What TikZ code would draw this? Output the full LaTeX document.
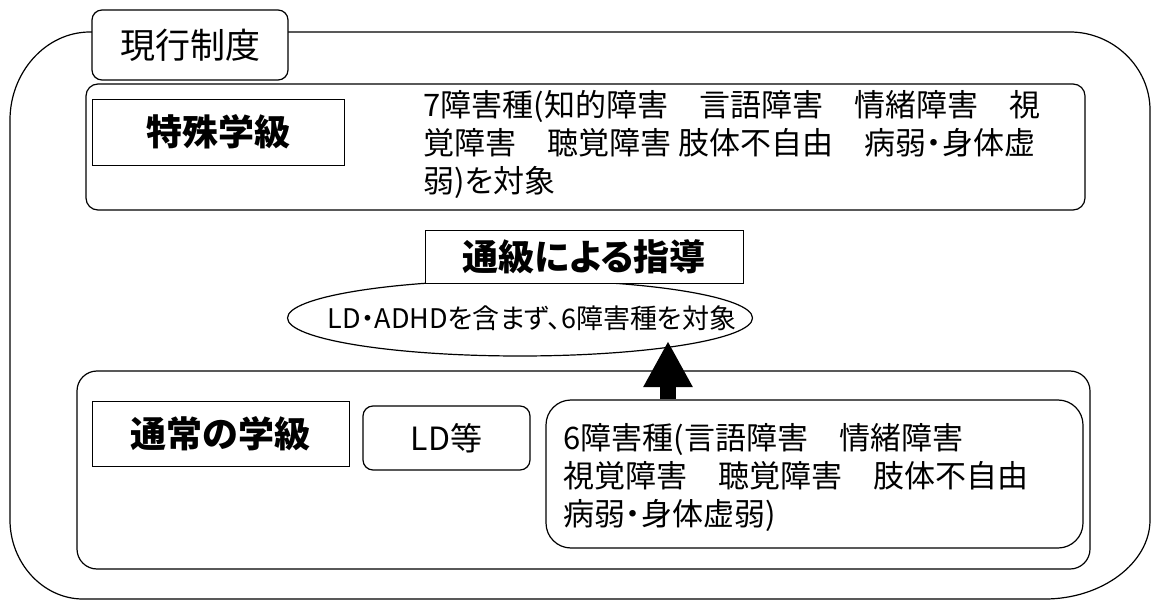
\documentclass[tikz,border=0pt]{standalone}
\usepackage{fontspec}
\setmainfont{Noto Sans CJK JP}[RawFeature=+palt]
\usetikzlibrary{shapes.geometric,arrows.meta}
\begin{document}
\begin{tikzpicture}[x=1pt,y=-1pt,line width=1.2pt,
  rbox/.style={draw,rounded corners=#1,inner sep=0pt,fill=white},
  sbox/.style={draw,line width=0.9pt,inner sep=0pt,fill=white},
  headtxt/.style={font=\fontsize{36}{40}\selectfont\bfseries},
  bodytxt/.style={font=\fontsize{31}{38}\selectfont,align=left,inner sep=0pt,anchor=west},
  bigarrow/.style={line width=16pt,-{Triangle[width=46pt,length=46pt]}}]
\useasboundingbox (0,0) rectangle (1153,601);
% outer frame
\draw (90,32) -- (1070,32) .. controls (1113,32) and (1150,67) .. (1150,110)
  -- (1150,520) .. controls (1150,563) and (1102,599) .. (1045,599)
  -- (83,599) .. controls (43,599) and (10,563) .. (10,520)
  -- (10,120) .. controls (10,72) and (46,32) .. (90,32) -- cycle;
\node[rbox=10pt,minimum width=196pt,minimum height=70pt,font=\fontsize{35}{40}\selectfont] (genkou) at (190,45) {現行制度};
% special class
\node[rbox=12pt,minimum width=999pt,minimum height=126pt] (special) at (585.5,147) {};
\node[sbox,minimum width=252pt,minimum height=66pt,headtxt] (tokushu) at (218,132) {特殊学級};
\node[bodytxt] (spectxt) at (423,144) {7障害種(知的障害　言語障害　情緒障害　視\\覚障害　聴覚障害 肢体不自由　病弱・身体虚\\弱)を対象};
% tsukyu
\node[draw,ellipse,minimum width=465pt,minimum height=76pt,inner sep=0pt] (ell) at (520,318) {};
\node[inner sep=0pt,font=\fontsize{27}{32}\selectfont] (elltxt) at (532,318) {LD・ADHDを含まず、6障害種を対象};
\node[sbox,minimum width=318pt,minimum height=53pt,font=\fontsize{36}{40}\selectfont\bfseries] (tsukyu) at (584,256.5) {通級による指導};
% regular class
\node[rbox=20pt,minimum width=1013pt,minimum height=198pt] (regular) at (583.5,470) {};
\node[sbox,minimum width=257pt,minimum height=65pt,headtxt] (tsujo) at (220.5,433.5) {通常の学級};
\node[rbox=10pt,minimum width=167pt,minimum height=64pt,font=\fontsize{32}{36}\selectfont] (ld) at (446.5,438) {LD等};
\node[rbox=25pt,minimum width=537pt,minimum height=148pt] (six) at (814.5,474) {};
\node[bodytxt] (sixtxt) at (563,478) {6障害種(言語障害　情緒障害\\視覚障害　聴覚障害　肢体不自由\\病弱・身体虚弱)};
% arrow
\coordinate (tip) at (668,341);
\draw[bigarrow] (six.north -| tip) -- (tip);
\end{tikzpicture}
\end{document}
